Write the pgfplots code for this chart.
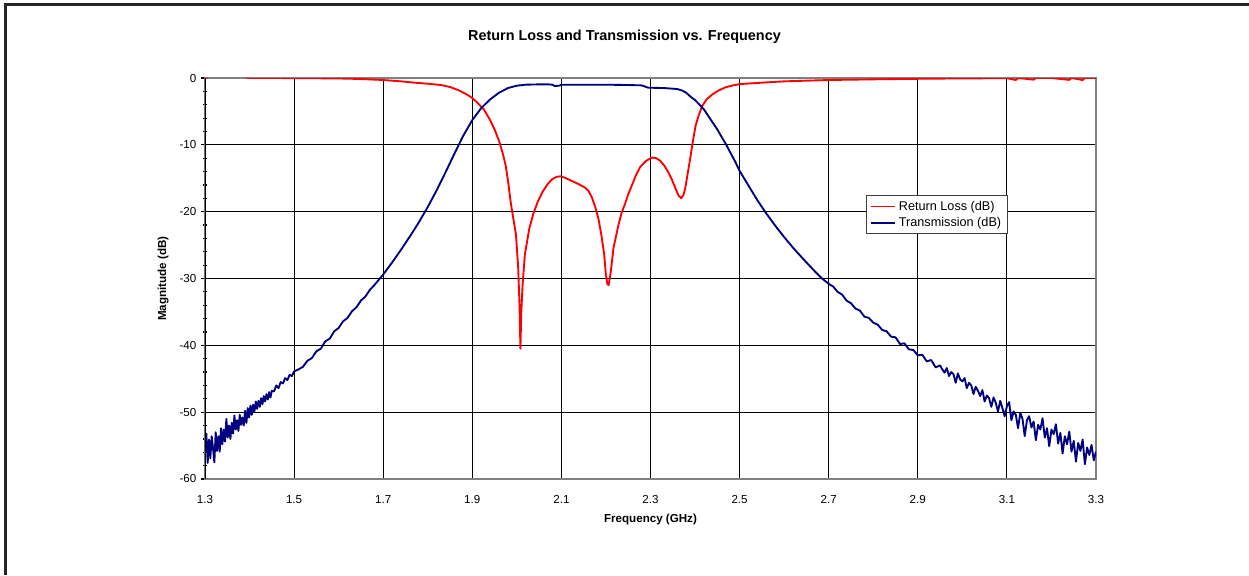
\documentclass[border=0pt]{standalone}
\usepackage{pgfplots}
\pgfplotsset{compat=1.18}
\usepackage{pgfplotstable}
\usepackage{fontspec}
\setmainfont{Liberation Sans}

\definecolor{rlred}{HTML}{FF0000}
\definecolor{txnavy}{HTML}{000080}

% Return loss (dB)
\pgfplotstableread{
f     db
1.300 0.50
1.305 0.00
1.310 0.50
1.390 0.50
1.395 0.00
1.450 0.00
1.500 -0.02
1.550 -0.04
1.600 -0.07
1.650 -0.15
1.700 -0.30
1.740 -0.50
1.771 -0.70
1.800 -0.85
1.830 -1.05
1.850 -1.35
1.870 -1.85
1.890 -2.55
1.900 -3.00
1.910 -3.60
1.926 -4.70
1.940 -6.30
1.950 -7.70
1.960 -9.40
1.968 -11.2
1.975 -13.1
1.981 -15.8
1.986 -18.5
1.992 -21.0
1.998 -23.4
2.003 -28.4
2.006 -34.0
2.008 -40.5
2.010 -35.0
2.013 -30.8
2.018 -26.4
2.028 -22.5
2.037 -20.3
2.047 -18.5
2.058 -17.0
2.070 -15.8
2.080 -15.1
2.089 -14.8
2.098 -14.7
2.107 -14.9
2.120 -15.3
2.130 -15.6
2.142 -16.0
2.153 -16.4
2.161 -16.9
2.168 -17.8
2.176 -19.3
2.183 -21.0
2.190 -23.6
2.196 -26.4
2.200 -29.5
2.203 -30.8
2.206 -31.0
2.209 -29.8
2.211 -28.9
2.217 -25.4
2.228 -22.0
2.235 -20.2
2.243 -18.8
2.250 -17.4
2.258 -16.1
2.267 -14.6
2.277 -13.3
2.290 -12.4
2.303 -11.9
2.313 -12.0
2.322 -12.4
2.331 -13.1
2.340 -14.1
2.348 -15.2
2.356 -16.5
2.363 -17.6
2.369 -18.0
2.374 -17.5
2.378 -16.5
2.383 -14.5
2.389 -12.1
2.395 -9.50
2.401 -7.20
2.408 -5.60
2.416 -4.20
2.426 -3.20
2.438 -2.50
2.452 -1.90
2.468 -1.40
2.485 -1.10
2.502 -0.90
2.550 -0.70
2.600 -0.50
2.650 -0.40
2.700 -0.30
2.800 -0.20
2.900 -0.12
3.000 -0.06
3.100 -0.03
3.120 -0.30
3.125 0.00
3.160 -0.25
3.165 0.00
3.200 0.00
3.240 -0.28
3.245 0.00
3.270 -0.30
3.275 0.00
3.300 0.00
}\rltable

% Transmission (dB)
\pgfplotstableread{
f     db
1.300 -55.8
1.303 -53.2
1.306 -57.6
1.309 -54.1
1.312 -56.9
1.315 -53.6
1.318 -55.4
1.321 -57.5
1.324 -53.0
1.327 -55.8
1.330 -53.6
1.333 -55.9
1.336 -52.4
1.339 -54.8
1.342 -52.6
1.345 -54.4
1.348 -51.0
1.351 -53.8
1.354 -52.0
1.357 -54.0
1.360 -51.6
1.363 -53.2
1.366 -50.5
1.369 -52.6
1.372 -51.2
1.375 -52.8
1.378 -50.4
1.381 -51.9
1.384 -50.8
1.387 -52.0
1.390 -49.8
1.393 -51.6
1.396 -49.4
1.399 -50.8
1.402 -49.0
1.405 -50.4
1.408 -48.9
1.411 -49.9
1.414 -48.4
1.417 -49.5
1.420 -48.3
1.423 -49.2
1.426 -47.9
1.429 -48.8
1.432 -47.6
1.435 -48.4
1.438 -47.3
1.441 -48.1
1.444 -47.0
1.447 -47.8
1.450 -46.8
1.455 -46.9
1.460 -46.0
1.465 -46.4
1.470 -45.5
1.475 -45.7
1.480 -44.9
1.485 -45.2
1.490 -44.4
1.495 -44.6
1.500 -43.9
1.510 -43.6
1.520 -43.2
1.530 -42.3
1.540 -41.9
1.550 -40.9
1.560 -40.5
1.570 -39.4
1.580 -39.0
1.590 -37.9
1.600 -37.4
1.610 -36.4
1.620 -35.9
1.630 -34.9
1.640 -34.3
1.650 -33.3
1.660 -32.7
1.670 -31.7
1.680 -31.0
1.690 -30.2
1.700 -29.4
1.720 -27.6
1.740 -25.7
1.760 -23.7
1.780 -21.6
1.800 -19.3
1.820 -16.8
1.840 -14.1
1.860 -11.3
1.880 -8.60
1.900 -6.30
1.920 -4.50
1.940 -3.20
1.960 -2.20
1.980 -1.50
2.000 -1.15
2.020 -1.00
2.050 -0.95
2.070 -0.95
2.080 -1.00
2.085 -1.20
2.095 -1.15
2.100 -1.00
2.150 -1.00
2.200 -1.00
2.250 -1.05
2.280 -1.10
2.295 -1.45
2.330 -1.50
2.360 -1.65
2.370 -1.85
2.380 -2.20
2.390 -2.80
2.400 -3.30
2.410 -4.00
2.420 -4.70
2.435 -6.20
2.450 -7.70
2.470 -10.0
2.490 -12.5
2.500 -13.9
2.510 -15.0
2.520 -16.1
2.540 -18.3
2.557 -20.0
2.580 -22.1
2.600 -23.8
2.620 -25.4
2.650 -27.6
2.670 -29.0
2.685 -30.0
2.700 -30.8
2.710 -31.2
2.720 -32.0
2.730 -32.4
2.740 -33.3
2.750 -33.7
2.760 -34.5
2.770 -34.8
2.780 -35.7
2.790 -35.9
2.800 -36.6
2.810 -36.9
2.820 -37.7
2.830 -37.9
2.840 -38.7
2.850 -38.8
2.860 -39.8
2.870 -39.7
2.880 -40.6
2.890 -40.7
2.900 -41.5
2.910 -41.4
2.920 -42.4
2.930 -42.2
2.940 -43.3
2.950 -43.0
2.955 -43.6
2.960 -44.1
2.965 -43.4
2.970 -44.6
2.975 -44.0
2.980 -44.3
2.985 -45.6
2.990 -44.2
2.995 -45.1
3.000 -45.4
3.005 -44.9
3.010 -46.4
3.015 -45.6
3.020 -46.0
3.025 -47.3
3.030 -46.2
3.035 -46.8
3.040 -47.6
3.045 -46.7
3.050 -48.4
3.055 -47.5
3.060 -47.9
3.065 -49.2
3.070 -47.8
3.075 -48.6
3.080 -49.9
3.085 -48.3
3.090 -49.4
3.095 -50.6
3.100 -49.1
3.105 -48.5
3.110 -51.2
3.115 -49.9
3.120 -50.4
3.125 -52.4
3.130 -50.1
3.135 -51.0
3.140 -53.6
3.145 -51.2
3.150 -50.6
3.155 -52.3
3.160 -51.4
3.165 -54.2
3.170 -51.9
3.175 -52.6
3.180 -50.9
3.185 -53.8
3.190 -52.4
3.195 -55.1
3.200 -52.6
3.205 -53.3
3.210 -51.8
3.215 -54.7
3.220 -53.1
3.225 -56.2
3.230 -53.6
3.235 -54.8
3.240 -52.9
3.245 -55.9
3.250 -54.3
3.255 -57.4
3.260 -54.6
3.265 -55.8
3.270 -54.1
3.275 -57.8
3.280 -55.3
3.285 -56.4
3.290 -54.9
3.295 -57.2
3.300 -55.9
}\txtable

\begin{document}
\begin{tikzpicture}
\begin{axis}[
    at={(0pt,0pt)}, anchor=south west,
    scale only axis,
    width=668.25pt, height=300.75pt,
    xmin=1.3, xmax=3.3, ymin=-60, ymax=0,
    xtick={1.3,1.5,1.7,1.9,2.1,2.3,2.5,2.7,2.9,3.1,3.3},
    ytick={-60,-50,-40,-30,-20,-10,0},
    minor y tick num=4,
    /pgf/number format/assume math mode=true,
    tick label style={font=\fontsize{8.7}{10}\selectfont},
    xticklabel style={yshift=-6pt, /pgf/number format/.cd, fixed, fixed zerofill, precision=1},
    tick align=center,
    ytick pos=left, xtick pos=bottom,
    major tick length=6pt, minor tick length=3pt,
    x tick style={draw=none},
    y tick style={black, line width=0.9pt},
    grid=major,
    major grid style={black, line width=0.75pt},
    axis line style={draw=black!50, line width=1.5pt},
    title={\textbf{Return Loss and Transmission vs. Frequency}},
    title style={font=\fontsize{10.8}{13}\selectfont, at={(axis description cs:0.4708,1.0823)}, anchor=center},
    xlabel={\textbf{Frequency (GHz)}},
    xlabel style={font=\fontsize{8.7}{10}\selectfont, at={(axis description cs:0.5,-0.1022)}, anchor=center},
    ylabel={\textbf{Magnitude (dB)}},
    ylabel style={font=\fontsize{8.7}{10}\selectfont, at={(axis description cs:-0.0471,0.5)}, anchor=center},
    legend style={at={(axis description cs:0.742,0.708)}, anchor=north west,
        draw=black!75, line width=0.75pt, fill=white,
        font=\fontsize{9.5}{11}\selectfont,
        inner xsep=3pt, inner ysep=2pt, row sep=0pt,
        cells={anchor=west}},
    legend image code/.code={\draw[#1, line width=1.2pt] (0pt,0pt) -- (18pt,0pt);},
    clip=true,
]
\addplot[color=rlred, line width=1.4pt, line join=round] table[x=f, y=db] {\rltable};
\addplot[color=txnavy, line width=1.4pt, line join=round] table[x=f, y=db] {\txtable};
\legend{Return Loss (dB), Transmission (dB)}
\draw[black, line width=1.5pt] (rel axis cs:0,0) -- (rel axis cs:0,1);
\end{axis}
\draw[black!85, line width=1.8pt] (-149.75pt,-72pt) -- (-149.75pt,355.75pt) -- (783pt,355.75pt);
\pgfresetboundingbox
\path[use as bounding box] (-153.75pt,-72pt) rectangle (783pt,359.25pt);
\end{tikzpicture}
\end{document}
